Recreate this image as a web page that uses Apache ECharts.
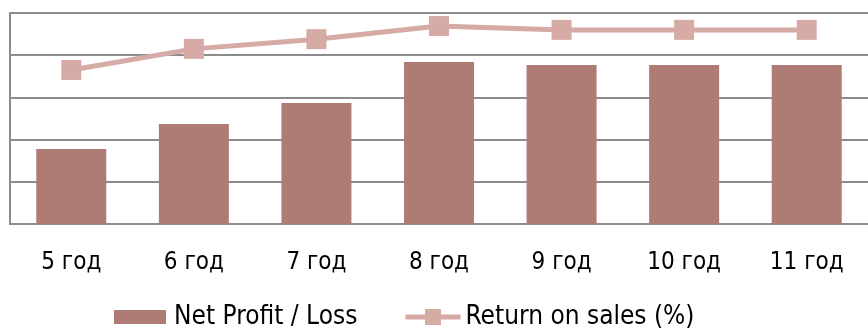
<!DOCTYPE html>
<html><head><meta charset="utf-8">
<script src="https://cdn.jsdelivr.net/npm/echarts@6/dist/echarts.min.js"></script>
<style>html,body{margin:0;padding:0;background:#fff}#c{width:868px;height:329px}</style>
</head><body><div id="c"></div>
<script>
const categories = ['5 год','6 год','7 год','8 год','9 год','10 год','11 год'];
const netProfit = [1.78, 2.37, 2.87, 3.84, 3.77, 3.77, 3.77];
const returnOnSales = [3.65, 4.15, 4.38, 4.69, 4.6, 4.6, 4.6];
const seriesNames = ['Net Profit / Loss', 'Return on sales (%)'];

const FONT = 'DejaVu Sans Condensed, DejaVu Sans';
const chart = echarts.init(document.getElementById('c'), null, {renderer:'canvas'});
chart.setOption({
  animation:false,
  backgroundColor:'#fff',
  textStyle:{fontFamily:FONT},
  grid:{left:10, top:13, width:861, height:211, containLabel:false},
  legend:[{
    left:114, top:304, padding:0, itemWidth:52, itemHeight:14, itemGap:0,
    textStyle:{fontSize:26, color:'#000', fontFamily:FONT, padding:[0,0,0,3]},
    data:[{name:seriesNames[0], icon:'rect'}]
  },{
    left:403, top:304, padding:0, itemWidth:55, itemHeight:20, itemGap:0,
    textStyle:{fontSize:26, color:'#000', fontFamily:FONT, padding:[0,0,0,0]},
    data:[{name:seriesNames[1], lineStyle:{width:5, color:'#d6aaa5'}}]
  }],
  xAxis:{
    type:'category', data:categories,
    axisLine:{show:true, lineStyle:{color:'#8c8c8c', width:2}},
    axisTick:{show:false},
    axisLabel:{margin:27, fontSize:24, color:'#000', fontFamily:FONT}
  },
  yAxis:{
    type:'value', min:0, max:5, interval:1,
    axisLabel:{show:false}, axisTick:{show:false},
    axisLine:{show:true, lineStyle:{color:'#8c8c8c', width:2}},
    splitLine:{lineStyle:{color:'#8c8c8c', width:2}}
  },
  series:[
    {name:seriesNames[0], type:'bar', data:netProfit, barWidth:70,
     itemStyle:{color:'#ae7c74'}},
    {name:seriesNames[1], type:'line', data:returnOnSales,
     symbol:'rect', symbolSize:20,
     lineStyle:{color:'#d6aaa5', width:5},
     itemStyle:{color:'#d6aaa5'}}
  ]
});
</script></body></html>
